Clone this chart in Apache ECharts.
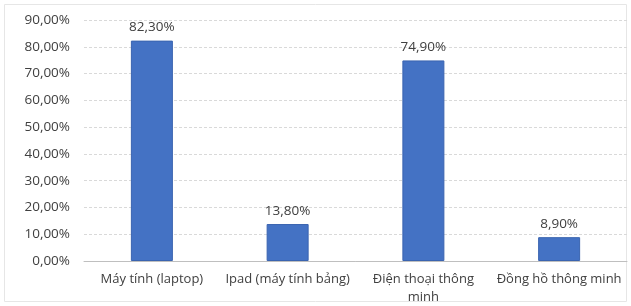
<!DOCTYPE html>
<html><head><meta charset="utf-8">
<script src="https://cdn.jsdelivr.net/npm/echarts@6/dist/echarts.min.js"></script>
<style>html,body{margin:0;padding:0;background:#fff}#c{width:631px;height:306px}</style>
</head><body><div id="c"></div>
<script>
const categories = ["Máy tính (laptop)", "Ipad (máy tính bảng)", "Điện thoại thông\nminh", "Đồng hồ thông minh"];
const values = [82.3, 13.8, 74.9, 8.9];
const yTicks = [0, 10, 20, 30, 40, 50, 60, 70, 80, 90];

const fmt = v => v.toFixed(2).replace('.', ',') + '%';
const chart = echarts.init(document.getElementById('c'));
chart.setOption({
  animation: false,
  graphic: [{type: 'rect', shape: {x: 4.5, y: 4.5, width: 622, height: 297}, style: {fill: 'none', stroke: '#e6e6e6', lineWidth: 1}}],
  grid: {left: 84, right: 4, top: 20, bottom: 43},
  xAxis: {
    type: 'category', data: categories,
    axisLine: {lineStyle: {color: '#bfbfbf'}},
    axisTick: {show: false},
    axisLabel: {color: '#404040', fontSize: 13, fontFamily: 'Open Sans, Liberation Sans, sans-serif', margin: 9, interval: 0, lineHeight: 18}
  },
  yAxis: {
    type: 'value', min: yTicks[0], max: yTicks[yTicks.length - 1], interval: 10,
    axisLine: {show: false}, axisTick: {show: false},
    splitLine: {lineStyle: {color: '#d9d9d9', type: [3, 2]}},
    axisLabel: {color: '#404040', fontSize: 13.5, fontFamily: 'Open Sans, Liberation Sans, sans-serif', margin: 14, formatter: fmt}
  },
  series: [{
    type: 'bar', data: values, barWidth: 42,
    itemStyle: {color: '#4472C4', borderColor: '#3a64b0', borderWidth: 1},
    label: {show: true, position: 'top', distance: 6, color: '#404040', fontSize: 13.5, fontFamily: 'Open Sans, Liberation Sans, sans-serif', formatter: p => fmt(p.value)}
  }]
});
</script></body></html>
